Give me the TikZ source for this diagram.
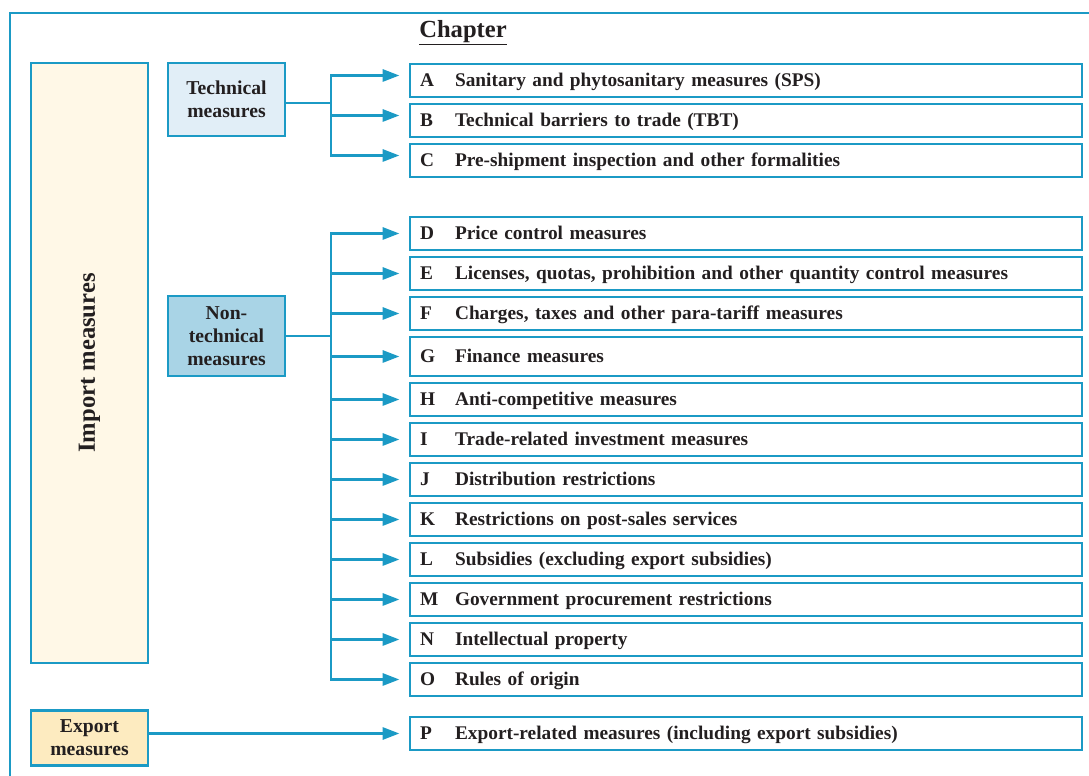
\documentclass[tikz,border=0pt]{standalone}
\usepackage{fontspec}
\setmainfont{Liberation Serif}
\usetikzlibrary{arrows.meta,positioning}
\definecolor{Frame}{HTML}{1B9AC5}
\definecolor{Ink}{HTML}{231F20}
\definecolor{Cream}{HTML}{FFF8E7}
\definecolor{IceBlue}{HTML}{E1EEF7}
\definecolor{SkyBlue}{HTML}{A9D4E6}
\definecolor{Sand}{HTML}{FDEBC0}

\begin{document}
\begin{tikzpicture}[x=0.02cm,y=-0.02cm,
  >={Triangle[length=9.5pt,width=7pt]},
  every node/.style={text=Ink,font=\fontsize{11}{13}\selectfont\bfseries},
  group/.style={draw=Frame,line width=1.5pt,minimum width=2.34cm,align=center,inner sep=0pt,
    font=\fontsize{11.2}{13}\selectfont\bfseries},
  item/.style={draw=Frame,line width=0.9pt,text width=13.04cm,inner xsep=0.2cm,inner ysep=0pt,align=left,
    text height=0.66em,text depth=0pt},
  link/.style={draw=Frame,line width=1.2pt}]
\useasboundingbox(0,0)rectangle(1089,776);
\draw[Frame,line width=1.4pt](10,776)--(10,13)--(1089,13);
\node[font=\fontsize{14}{16}\selectfont\bfseries](chap)at(463,33){\underline{Chapter}};
% left boxes
\node[group,fill=Cream,minimum height=12cm](imp)at(89.5,363){};
\node[rotate=90,font=\fontsize{14}{16}\selectfont\bfseries]at(imp.center){Import measures};
\node[group,fill=IceBlue,minimum height=1.46cm](tech)at(226.5,99.5){Technical\\measures};
\node[group,fill=SkyBlue,minimum height=1.6cm](ntech)at(226.5,336){Non-\\technical\\measures};
\node[group,fill=Sand,minimum height=1.1cm](exp)at(89.5,738){Export\\measures};
% chapters
\foreach \n/\y/\h/\t in {
  A/80.5/0.66cm/{Sanitary and phytosanitary measures (SPS)},
  B/120.5/0.66cm/{Technical barriers to trade (TBT)},
  C/160.5/0.66cm/{Pre-shipment inspection and other formalities},
  D/233.5/0.66cm/{Price control measures},
  E/273.5/0.66cm/{Licenses, quotas, prohibition and other quantity control measures},
  F/313.5/0.66cm/{Charges, taxes and other para-tariff measures},
  G/356.5/0.78cm/{Finance measures},
  H/399.5/0.66cm/{Anti-competitive measures},
  I/439.5/0.66cm/{Trade-related investment measures},
  J/479.5/0.66cm/{Distribution restrictions},
  K/519.5/0.66cm/{Restrictions on post-sales services},
  L/559.5/0.66cm/{Subsidies (excluding export subsidies)},
  M/599.5/0.66cm/{Government procurement restrictions},
  N/639.5/0.66cm/{Intellectual property},
  O/679.5/0.66cm/{Rules of origin},
  P/733.5/0.66cm/{Export-related measures (including export subsidies)}}{
\node[item,minimum height=\h](\n)at(746,\y){\makebox[0.7cm][l]{\n}\t};}
% connectors
\coordinate(bus)at(331,0);
\foreach \n in {A,B,C}{
\draw[link,->]([yshift=-0.07cm]tech.east)-|([yshift=0.1cm]\n.west-|bus)--([xshift=-0.2cm,yshift=0.1cm]\n.west);}
\foreach \n in {D,E,F,G,H,I,J,K,L,M,N,O}{
\draw[link,->](ntech.east)-|(\n.west-|bus)--([xshift=-0.2cm]\n.west);}
\draw[link,->](exp.east|-P.west)--([xshift=-0.2cm]P.west);
\end{tikzpicture}
\end{document}
